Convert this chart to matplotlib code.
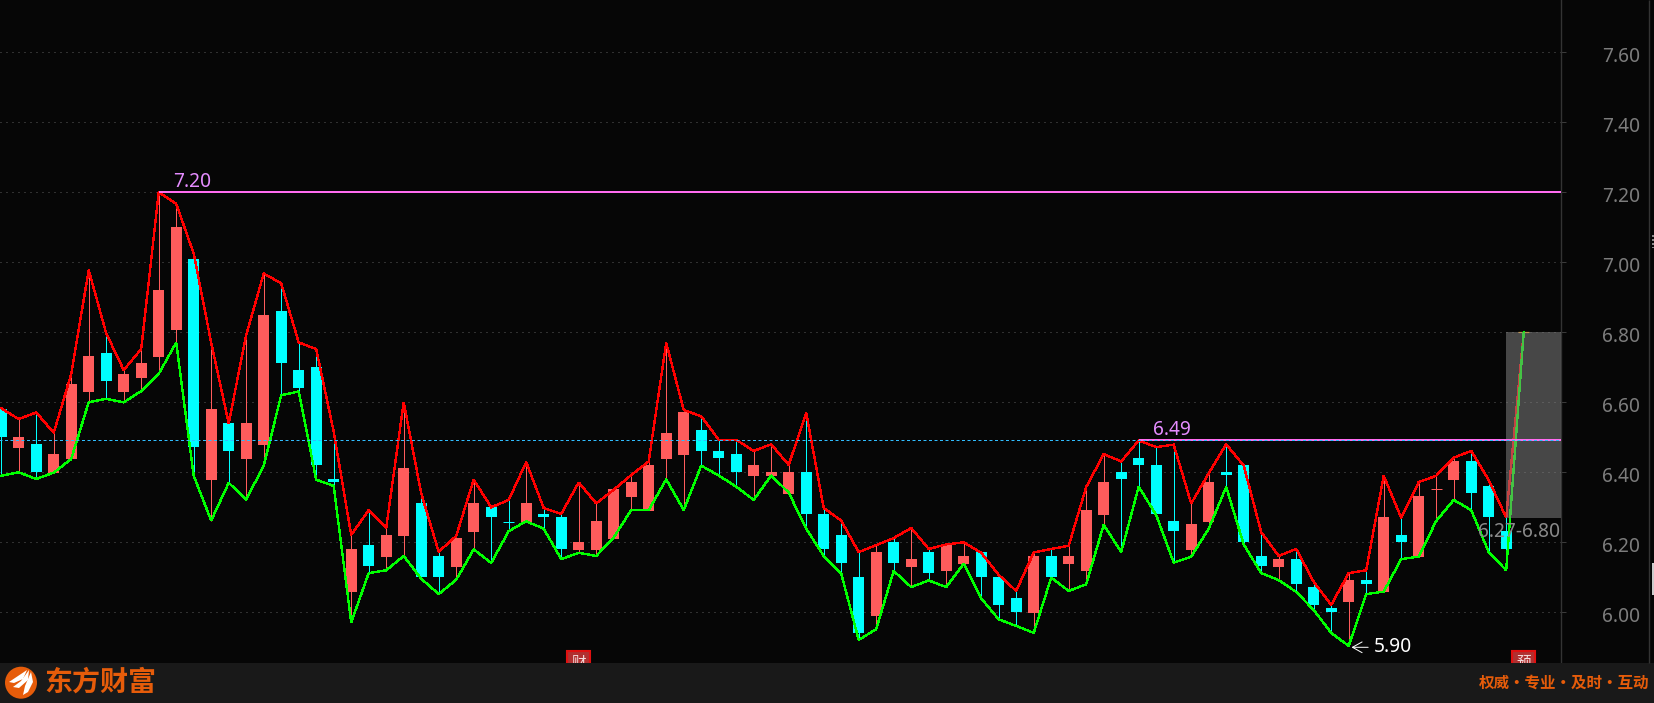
import matplotlib
matplotlib.use("Agg")
import matplotlib.pyplot as plt
from matplotlib.patches import Rectangle, Circle, Polygon
from matplotlib.transforms import ScaledTranslation

plt.rcParams['font.family'] = ['Noto Sans', 'Noto Sans CJK SC', 'DejaVu Sans']

# ---------- data: one entry per session ----------
opens = [6.581, 6.470, 6.481, 6.399, 6.438, 6.629, 6.741, 6.629, 6.669, 6.729,
         6.806, 7.009, 6.378, 6.541, 6.438, 6.478, 6.861, 6.692, 6.701, 6.381,
         6.058, 6.192, 6.158, 6.218, 6.312, 6.161, 6.129, 6.229, 6.301, 6.259,
         6.258, 6.281, 6.272, 6.178, 6.178, 6.209, 6.329, 6.289, 6.438, 6.450,
         6.521, 6.461, 6.452, 6.389, 6.389, 6.338, 6.401, 6.281, 6.221, 6.101,
         5.990, 6.201, 6.129, 6.172, 6.118, 6.138, 6.172, 6.101, 6.041, 5.998,
         6.161, 6.138, 6.118, 6.278, 6.401, 6.441, 6.421, 6.261, 6.178, 6.258,
         6.401, 6.421, 6.161, 6.129, 6.152, 6.072, 6.012, 6.029, 6.092, 6.058,
         6.221, 6.158, 6.351, 6.378, 6.432, 6.361, 6.232]
closes = [6.502, 6.500, 6.402, 6.452, 6.652, 6.732, 6.660, 6.681, 6.712, 6.921,
          7.100, 6.473, 6.581, 6.461, 6.541, 6.849, 6.712, 6.641, 6.421, 6.372,
          6.181, 6.132, 6.221, 6.412, 6.101, 6.101, 6.212, 6.312, 6.272, 6.259,
          6.312, 6.272, 6.181, 6.201, 6.261, 6.352, 6.372, 6.421, 6.512, 6.572,
          6.461, 6.441, 6.401, 6.421, 6.401, 6.401, 6.281, 6.181, 6.141, 5.941,
          6.172, 6.141, 6.152, 6.112, 6.192, 6.161, 6.101, 6.021, 6.001, 6.161,
          6.101, 6.161, 6.292, 6.372, 6.381, 6.421, 6.281, 6.232, 6.252, 6.372,
          6.392, 6.201, 6.132, 6.152, 6.081, 6.021, 6.001, 6.092, 6.081, 6.272,
          6.201, 6.332, 6.351, 6.432, 6.341, 6.272, 6.181]
highs = [6.583, 6.552, 6.571, 6.513, 6.680, 6.978, 6.797, 6.692, 6.752, 7.200,
         7.167, 7.025, 6.770, 6.540, 6.792, 6.968, 6.940, 6.771, 6.752, 6.516,
         6.221, 6.292, 6.241, 6.600, 6.340, 6.173, 6.218, 6.379, 6.300, 6.321,
         6.429, 6.298, 6.281, 6.371, 6.311, 6.350, 6.392, 6.431, 6.770, 6.578,
         6.560, 6.493, 6.493, 6.461, 6.480, 6.421, 6.570, 6.298, 6.262, 6.172,
         6.192, 6.212, 6.241, 6.181, 6.194, 6.200, 6.170, 6.107, 6.061, 6.171,
         6.181, 6.190, 6.358, 6.452, 6.431, 6.491, 6.472, 6.479, 6.311, 6.397,
         6.480, 6.419, 6.229, 6.161, 6.181, 6.087, 6.021, 6.112, 6.120, 6.390,
         6.270, 6.372, 6.390, 6.442, 6.461, 6.378, 6.271, 6.800]
lows = [6.390, 6.400, 6.381, 6.399, 6.438, 6.600, 6.610, 6.600, 6.632, 6.681,
        6.771, 6.390, 6.262, 6.370, 6.322, 6.419, 6.620, 6.631, 6.379, 6.361,
        5.971, 6.112, 6.120, 6.161, 6.096, 6.052, 6.093, 6.180, 6.141, 6.232,
        6.260, 6.239, 6.152, 6.170, 6.161, 6.214, 6.292, 6.292, 6.380, 6.292,
        6.419, 6.391, 6.359, 6.321, 6.391, 6.342, 6.239, 6.161, 6.111, 5.921,
        5.952, 6.118, 6.072, 6.091, 6.072, 6.139, 6.040, 5.980, 5.961, 5.941,
        6.099, 6.061, 6.080, 6.250, 6.172, 6.359, 6.278, 6.142, 6.159, 6.239,
        6.358, 6.194, 6.112, 6.092, 6.058, 6.007, 5.941, 5.904, 6.052, 6.059,
        6.152, 6.159, 6.261, 6.321, 6.292, 6.172, 6.120, 6.800]
up_flags = [c > o for o, c in zip(opens, closes)]
last_price = 6.80
y_ticks = [6.00, 6.20, 6.40, 6.60, 6.80, 7.00, 7.20, 7.40, 7.60]
prev_close = 6.492
high_mark = 7.20
high_index = 9
low_mark = 5.90
low_index = 77
second_high = 6.492
second_high_index = 65
range_low = 6.27
range_high = 6.80

# ---------- figure ----------
W, H = 1654, 703
AX_R, AX_B = 1561, 663
X0, STEP = 1.2, 17.5
BG = '#060606'
RED = '#ff5c5c'
CYAN = '#00ffff'
PINK = '#ff6cf0'
FS = 13.8
px = 72 / 100

fig = plt.figure(figsize=(W / 100, H / 100), dpi=100, facecolor=BG)
ax = fig.add_axes([0, (H - AX_B) / H, AX_R / W, AX_B / H], facecolor=BG)
ax.set_xlim(-X0 / STEP, (AX_R - X0) / STEP)
ax.set_ylim(6 + (612.3 - AX_B) / 350, 6 + 612.3 / 350)

for s in ('top', 'left', 'bottom'):
    ax.spines[s].set_visible(False)
ax.spines['right'].set_color('#333333')
ax.spines['right'].set_linewidth(1.4 * px)
ax.xaxis.set_visible(False)
ax.yaxis.tick_right()
ax.set_yticks(y_ticks, [f'{v:.2f}' for v in y_ticks])
ax.tick_params(axis='y', direction='out', length=5 * px, width=1 * px, color='#3a3a3a',
               labelcolor='#7c7c7c', labelsize=FS, pad=36 * px)
shift = ScaledTranslation(0, -2.5 / 100, fig.dpi_scale_trans)
for lab in ax.yaxis.get_majorticklabels():
    lab.set_transform(lab.get_transform() + shift)
ax.grid(axis='y', color='#5a5a5a', linewidth=1 * px, linestyle=(0, (1, 5)), zorder=1)
ax.set_axisbelow(True)

# candles
xs = list(range(len(opens)))
body_w = 11 / STEP
for i in xs:
    col = RED if up_flags[i] or i == 82 else CYAN
    ax.vlines(i, lows[i], highs[i], color=col, linewidth=1 * px, zorder=3)
    o, c = opens[i], closes[i]
    if abs(o - c) < 0.001:
        ax.hlines(o, i - body_w / 2, i + body_w / 2, color=col, linewidth=1 * px, zorder=3.1)
    else:
        ax.bar(i, abs(c - o), bottom=min(o, c), width=body_w, color=col, linewidth=0, zorder=3.1)

line_x = list(range(len(highs)))
ax.plot(line_x, highs, color='#ff0000', linewidth=1.35 * px, zorder=4, solid_joinstyle='miter', antialiased=False)
ax.plot(line_x, lows, color='#00ff00', linewidth=1.35 * px, zorder=4.1, solid_joinstyle='miter', antialiased=False)
ax.hlines(last_price, line_x[-1] - body_w / 2, line_x[-1] + body_w / 2,
          color='#f0a020', linewidth=1.2 * px, zorder=4)

# translucent range box above the lines
box_l = line_x[-2] - 0.03
ax.add_patch(Rectangle((box_l, range_low), (AX_R - X0) / STEP - box_l, range_high - range_low,
                       facecolor='#888888', edgecolor='none', alpha=0.5, zorder=5))

# marks
ax.hlines(high_mark, high_index, (AX_R - X0) / STEP, color=PINK, linewidth=2 * px, zorder=6)
ax.hlines(second_high, second_high_index, (AX_R - X0) / STEP, color=PINK, linewidth=2 * px, zorder=6)
ax.hlines(prev_close, -1, (AX_R - X0) / STEP, color='#30bdff', linewidth=1 * px,
          linestyle=(0, (3, 2.5)), zorder=6.1)

ax.annotate(f'{high_mark:.2f}', (high_index, high_mark), xytext=(14 * px, 5 * px),
            textcoords='offset points', color='#e58cff', fontsize=FS, ha='left', va='baseline', zorder=7)
ax.annotate(f'{second_high:.2f}', (second_high_index, second_high), xytext=(14 * px, 5 * px),
            textcoords='offset points', color='#e58cff', fontsize=FS, ha='left', va='baseline', zorder=7)
ax.annotate(f'{low_mark:.2f}', (low_index, low_mark), xytext=(25 * px, 0),
            textcoords='offset points', color='#ffffff', fontsize=FS, ha='left', va='center',
            zorder=7, arrowprops=dict(arrowstyle='->,head_length=0.5,head_width=0.28', color='#ffffff',
                                      linewidth=1 * px, shrinkA=2, shrinkB=2))
ax.text((AX_R - X0 - 1) / STEP, range_low - 0.012, f'{range_low:.2f}-{range_high:.2f}', color='#8a8a8a',
        fontsize=FS, ha='right', va='top', zorder=7)

# ---------- chrome in pixel coordinates ----------
ov = fig.add_axes([0, 0, 1, 1], facecolor='none', zorder=10)
ov.set_xlim(0, W)
ov.set_ylim(H, 0)
ov.axis('off')

# event badges, half hidden by the footer
for bx, label in ((567, '财'), (1512, '预')):
    ov.add_patch(Rectangle((bx, 651), 23, 20, facecolor='#b03030', edgecolor='#e01010', linewidth=1.5, zorder=1))
    ov.text(bx + 11.5, 663, label, color='#f4dcdc', fontsize=10.5, ha='center', va='center',
            family=['Noto Sans CJK SC', 'DejaVu Sans'], zorder=2)

# footer
ov.add_patch(Rectangle((0, 663), W, 40, facecolor='#191919', edgecolor='none', zorder=3))

# right strip
ov.vlines(1649, 0, 663, color='#333333', linewidth=1.4 * px, zorder=3)
ov.vlines(1652.7, 235, 248, color='#888888', linewidth=2 * px, linestyle=(0, (1, 1)), zorder=3)
ov.add_patch(Rectangle((1652, 563), 2, 32, facecolor='#cccccc', edgecolor='none', zorder=3))

# logo
ORANGE = '#e65c0a'
ov.add_patch(Circle((21, 682.7), 16, facecolor=ORANGE, edgecolor='none', zorder=4))
feathers = [[(9, 682), (18, 676), (27, 670), (23, 679), (14, 683)],
            [(13, 687), (21, 681), (29, 670), (28, 680), (19, 688)],
            [(23, 695), (25, 686), (31, 672), (33, 682), (28, 692)]]
for pts in feathers:
    ov.add_patch(Polygon(pts, closed=True, facecolor='#ffffff', edgecolor='none', zorder=5))

ov.text(44, 683, '东方财富', color=ORANGE, fontsize=20.2, fontweight='bold', ha='left', va='center',
        family=['Noto Sans CJK SC', 'DejaVu Sans'], zorder=5)
ov.text(1649, 683, '权威·专业·及时·互动', color=ORANGE, fontsize=11.2, fontweight='bold',
        ha='right', va='center', family=['Noto Sans CJK SC', 'DejaVu Sans'], zorder=5)

fig.savefig('out.png', dpi=100, facecolor=BG)
